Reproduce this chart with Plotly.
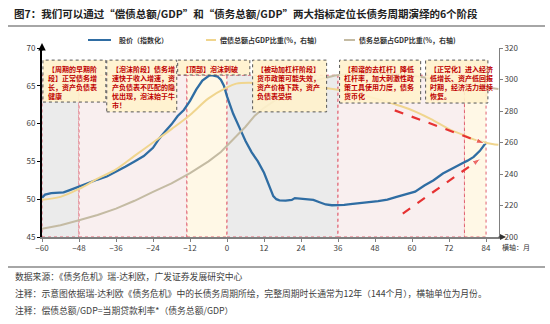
import plotly.graph_objects as go

# ---------------- data ----------------
blue_months = [-60,-59,-57,-55,-53,-51,-48,-45,-42,-39,-36,-33,-30,-27,-24,-22,-20,-18,-16,-14,-12,-10,-8,-6,-5,-3,-2,-1,0,2,4,6,8,10,12,14,15,16,17,19,21,22,23,25,28,30,32,34,36,38,40,43,46,49,52,55,58,61,64,67,70,73,76,78,80,82,84]
blue_vals = [50.2,50.6,50.8,50.8,50.9,51.2,51.7,52.2,52.6,53.0,53.6,54.3,55.0,55.7,56.8,58.0,59.0,59.9,61.0,61.8,63.0,64.5,65.7,66.3,66.4,66.2,65.8,65.0,63.6,61.3,59.5,57.7,56.2,55.0,53.5,51.3,50.4,50.0,49.85,49.8,49.9,50.15,50.1,49.95,49.9,49.6,49.3,49.2,49.2,49.25,49.35,49.45,49.6,49.75,49.95,50.3,50.6,51.0,51.8,52.5,53.4,54.1,54.7,55.1,55.6,56.4,57.5]

yellow_months = [-60,-54,-48,-42,-36,-30,-24,-18,-12,-6,0,3,7,14,20,25,30,36,42,48,54,60,66,72,77,80,83,86,88]
yellow_vals = [223.7,225.5,230.5,237,243,251.5,260,268.5,277.5,288,295,297.4,298,297,296,295.5,295,293.5,291,288,284.5,280.5,275,268.5,264.5,262,260.3,259,258.5]

gray_months = [-60,-54,-48,-42,-36,-30,-24,-18,-12,-6,-2,0,3,6,9,12,15,20,25,30,35,40,45,50,55,60,65,70,75,80,85,88]
gray_vals = [205.3,207.5,210.6,214,218,223,228.6,234,240.5,248,254,258,264,270,277,282,286,292,296.5,300,302.5,303.5,304,304,303.5,302.5,301,299.5,297.5,296,294.5,294]

x_ticks = [-60,-48,-36,-24,-12,0,12,24,36,48,60,72,84]
left_ticks = [45,50,55,60,65,70]
right_ticks = [200,220,240,260,280,300,320]

# phase boundaries (months) and fills
phase_edges = [-60,-48,-13,0,36,77,84]
phase_fills = ["#EBEBEB","#F9EFEF","#FFF8E6","#EBEBEB","#F9EFEF","#FFF8E6"]
phase_top = 66.4

# annotation arrows
arrow1_x = [54.4, 83.6]; arrow1_y = [280.4, 259.3]   # right axis
arrow2_x = [57.0, 82.3]; arrow2_y = [48.1, 55.4]     # left axis

# text boxes: (x0, x1 months, top, bottom left-axis values, text)
boxes = [
    (-59.7, -39.3, 68.4, 62.85, "【周期的早期阶<br>段】正常债务增<br>长，资产负债表<br>健康"),
    (-39.0, -16.3, 68.4, 61.55, "【泡沫阶段】债务增<br>速快于收入增速，资<br>产负债表不匹配的隐<br>忧出现，泡沫始于牛<br>市！"),
    (-16.0, 7.4, 68.4, 66.43, "【顶部】泡沫刺破"),
    (8.3, 32.3, 68.4, 61.55, "【被动加杠杆阶段】<br>货币政策可能失效，<br>资产价格下跌，资产<br>负债表受损"),
    (36.5, 62.8, 68.4, 62.72, "【和谐的去杠杆】降低<br>杠杆率，加大刺激性政<br>策工具使用力度，债务<br>货币化"),
    (64.4, 84.6, 68.4, 62.72, "【正常化】进入经济<br>低增长、资产低回报<br>时期，经济活力继续<br>恢复。"),
]

title = "图7：我们可以通过“偿债总额/GDP”和“债务总额/GDP”两大指标定位长债务周期演绎的6个阶段"
legend_names = ["股价（指数化）", "偿债总额占GDP比重(%，右轴)", "债务总额占GDP比重(%，右轴)"]
foot = ["数据来源：《债务危机》瑞-达利欧，广发证券发展研究中心",
        "注释：示意图依据瑞-达利欧《债务危机》中的长债务周期所绘，完整周期时长通常为12年（144个月），横轴单位为月份。",
        "注释：偿债总额/GDP=当期贷款利率*（债务总额/GDP）"]

FONT = "Noto Sans CJK SC"
BLUE = "#2F6DA3"; YEL = "#F0D58E"; GRY = "#C4BBA3"; RED = "#E63232"; DRED = "#C00000"

W, H = 550, 324
ML, MR, MT, MB = 42, 51, 48, 87
PW, PH = W - ML - MR, H - MT - MB
def PX(px): return (px - ML) / PW
def PY(py): return (H - MB - py) / PH

fig = go.Figure()
fig.add_trace(go.Scatter(x=gray_months, y=gray_vals, yaxis="y2", mode="lines",
                         line=dict(color=GRY, width=2), showlegend=False))
fig.add_trace(go.Scatter(x=yellow_months, y=yellow_vals, yaxis="y2", mode="lines",
                         line=dict(color=YEL, width=2, shape="spline"), showlegend=False))
fig.add_trace(go.Scatter(x=blue_months, y=blue_vals, mode="lines",
                         line=dict(color=BLUE, width=2.3), showlegend=False))
fig.add_trace(go.Scatter(x=arrow1_x, y=arrow1_y, yaxis="y2", mode="lines+markers",
                         line=dict(color=RED, width=2.2, dash="dash"),
                         marker=dict(symbol="arrow", size=[0, 9], angleref="previous", color=RED),
                         showlegend=False))
fig.add_trace(go.Scatter(x=arrow2_x, y=arrow2_y, mode="lines+markers",
                         line=dict(color=RED, width=2.2, dash="dash"),
                         marker=dict(symbol="arrow", size=[0, 9], angleref="previous", color=RED),
                         showlegend=False))

shapes = []
for i in range(len(phase_fills)):
    shapes.append(dict(type="rect", xref="x", yref="y", x0=phase_edges[i], x1=phase_edges[i+1],
                       y0=45, y1=phase_top, fillcolor=phase_fills[i],
                       line=dict(color="#E06070", width=1, dash="dot"), layer="below"))
annotations = []
for (x0, x1, t, b, txt) in boxes:
    shapes.append(dict(type="rect", xref="x", yref="y", x0=x0, x1=x1, y0=b, y1=t,
                       fillcolor="rgba(255,242,204,0.9)",
                       line=dict(color="#555555", width=1, dash="dot"), layer="above"))
    annotations.append(dict(xref="x", yref="y", x=x0 + 0.9, y=t - 0.2, xanchor="left", yanchor="top",
                            text=txt, showarrow=False, align="left",
                            font=dict(family=FONT, size=7, color=DRED, weight="bold")))

# title + separator lines
annotations.append(dict(xref="paper", yref="paper", x=PX(12), y=PY(13), xanchor="left", yanchor="middle",
                        text=title, showarrow=False,
                        font=dict(family=FONT, size=10.5, color="#222222", weight="bold")))
shapes.append(dict(type="line", xref="paper", yref="paper", x0=PX(8), x1=PX(545), y0=PY(26), y1=PY(26),
                   line=dict(color="#A6A6A6", width=2)))
shapes.append(dict(type="line", xref="paper", yref="paper", x0=PX(8), x1=PX(545), y0=PY(267), y1=PY(267),
                   line=dict(color="#A6A6A6", width=2)))
for i, (txt, py) in enumerate(zip(foot, [276, 293, 310])):
    annotations.append(dict(xref="paper", yref="paper", x=PX(13), y=PY(py), xanchor="left", yanchor="middle",
                            text=txt, showarrow=False,
                            font=dict(family=FONT, size=8.8, color="#404040")))

# manual legend
leg = [(BLUE, 88, 111, 117), (YEL, 206, 216, 218), (GRY, 344, 355, 357)]
for (c, a, b, tx), name in zip(leg, legend_names):
    shapes.append(dict(type="line", xref="paper", yref="paper", x0=PX(a), x1=PX(b), y0=PY(40), y1=PY(40),
                       line=dict(color=c, width=2)))
    annotations.append(dict(xref="paper", yref="paper", x=PX(tx), y=PY(40), xanchor="left", yanchor="middle",
                            text=name, showarrow=False,
                            font=dict(family=FONT, size=7, color="#333333", weight="bold")))

# axis arrows and unit label
annotations.append(dict(xref="paper", yref="paper", x=0, y=PY(43), ax=0, ay=9, axref="pixel", ayref="pixel",
                        text="", showarrow=True, arrowhead=2, arrowsize=1, arrowwidth=1.5, arrowcolor="#000000"))
annotations.append(dict(xref="paper", yref="paper", x=PX(506), y=0, ax=-9, ay=0,
                        text="", showarrow=True, arrowhead=2, arrowsize=1, arrowwidth=1.2, arrowcolor="#333333"))
annotations.append(dict(xref="paper", yref="paper", x=PX(500), y=PY(247), xanchor="left", yanchor="middle",
                        text="横轴：月", showarrow=False,
                        font=dict(family=FONT, size=7, color="#333333")))

fig.update_layout(
    width=W, height=H, margin=dict(l=ML, r=MR, t=MT, b=MB),
    paper_bgcolor="white", plot_bgcolor="white",
    font=dict(family=FONT, size=8, color="#404040"),
    xaxis=dict(range=[-60, 88.2], tickvals=x_ticks, showgrid=False, zeroline=False,
               showline=True, linecolor="#808080", linewidth=1.5, ticks="outside", ticklen=3,
               tickcolor="#808080", tickfont=dict(size=8, color="#404040")),
    yaxis=dict(range=[45, 70], tickvals=left_ticks, showgrid=False, zeroline=False,
               showline=True, linecolor="#000000", linewidth=2, ticks="outside", ticklen=3,
               tickcolor="#000000", tickfont=dict(size=8, color="#404040")),
    yaxis2=dict(range=[200, 320], tickvals=right_ticks, overlaying="y", side="right", showgrid=False,
                zeroline=False, showline=True, linecolor="#808080", linewidth=1, ticks="outside",
                ticklen=3, tickcolor="#808080", tickfont=dict(size=8, color="#404040")),
    shapes=shapes, annotations=annotations, showlegend=False,
)
fig.write_html("out.html")
